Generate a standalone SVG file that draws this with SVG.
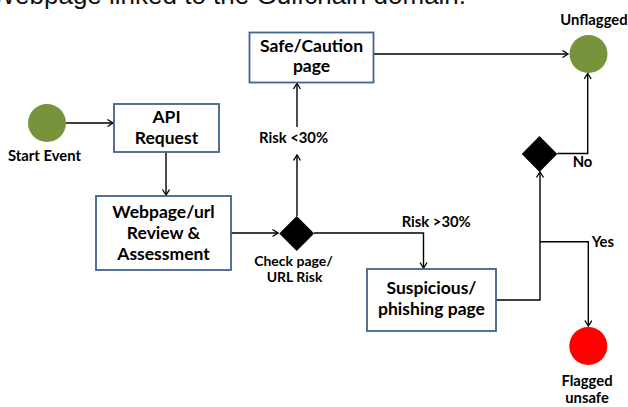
<svg xmlns="http://www.w3.org/2000/svg" width="628" height="407" viewBox="0 0 628 407">
  <defs>
    <style>
      .box { fill: #ffffff; stroke: #41638F; stroke-width: 1.8; }
      .conn { fill: none; stroke: #000000; stroke-width: 1.4; marker-end: url(#arr); }
      .dia { fill: #000000; }
      .green { fill: #77933C; }
      .red { fill: #FF0000; }
      .bt { font-family: Lato, "Open Sans", sans-serif; font-weight: bold; font-size: 17.5px; fill: #000; text-anchor: middle; }
      .lb { font-family: Lato, "Open Sans", sans-serif; font-weight: bold; font-size: 14.8px; fill: #000; }
      .sm { font-size: 14px; }
      .mid { text-anchor: middle; }
      .title { font-family: "Liberation Sans", Arial, sans-serif; font-size: 26px; fill: #111; }
    </style>
    <marker id="arr" markerUnits="userSpaceOnUse" markerWidth="10" markerHeight="10" refX="6" refY="4" orient="auto">
      <path d="M0.5,0.5 L6,4 L0.5,7.5" fill="none" stroke="#000" stroke-width="1.3"/>
    </marker>
  </defs>

  <text class="title" x="-9" y="4">Webpage linked to the Gulfchain domain.</text>

  <g id="connectors">
    <path class="conn" d="M66,123 H113"/>
    <path class="conn" d="M166,152 V195"/>
    <path class="conn" d="M231,233 H278"/>
    <path class="conn" d="M297,216 V155"/>
    <path class="conn" d="M297,127 V83.5"/>
    <path class="conn" d="M373.5,54 H568"/>
    <path class="conn" d="M314,233 H423.5 V268"/>
    <path class="conn" d="M496,300 H540 V172"/>
    <path class="conn" d="M540,241.7 H588.3 V326"/>
    <path class="conn" d="M557.3,153.5 H587.7 V73.5"/>
  </g>

  <g id="start">
    <circle class="green" cx="47" cy="123" r="19"/>
    <text class="lb mid" x="44.5" y="160.7">Start Event</text>
  </g>

  <g id="api">
    <rect class="box" x="114" y="104" width="105" height="48"/>
    <text class="bt" x="166.5" y="123">API</text>
    <text class="bt" x="166.5" y="144">Request</text>
  </g>

  <g id="review">
    <rect class="box" x="96" y="196" width="135" height="74"/>
    <text class="bt" x="163.5" y="218.3">Webpage/url</text>
    <text class="bt" x="163.5" y="239.3">Review &amp;</text>
    <text class="bt" x="163.5" y="260">Assessment</text>
  </g>

  <g id="check">
    <polygon class="dia" points="296.7,216 314.2,233.5 296.7,251 279.2,233.5"/>
    <text class="lb sm mid" x="293.5" y="265.5">Check page/</text>
    <text class="lb sm mid" x="294.5" y="282.3">URL Risk</text>
  </g>

  <g id="risk-low-label">
    <text class="lb" x="259" y="143">Risk &lt;30%</text>
  </g>

  <g id="risk-high-label">
    <text class="lb" x="401.7" y="227.3">Risk &gt;30%</text>
  </g>

  <g id="safe">
    <rect class="box" x="249.5" y="32.5" width="124" height="50"/>
    <text class="bt" x="311.5" y="51.7">Safe/Caution</text>
    <text class="bt" x="311.5" y="71.7">page</text>
  </g>

  <g id="suspicious">
    <rect class="box" x="367" y="269" width="129" height="62"/>
    <text class="bt" x="431.5" y="294">Suspicious/</text>
    <text class="bt" x="431.5" y="315">phishing page</text>
  </g>

  <g id="decision2">
    <polygon class="dia" points="539.5,136 557.3,154 539.5,172 521.7,154"/>
    <text class="lb" x="572.7" y="166.7">No</text>
    <text class="lb" x="591.7" y="246.7">Yes</text>
  </g>

  <g id="unflagged">
    <circle class="green" cx="588.5" cy="54" r="19"/>
    <text class="lb mid" x="594" y="25">Unflagged</text>
  </g>

  <g id="flagged">
    <circle class="red" cx="588.3" cy="346" r="19"/>
    <text class="lb mid" x="587" y="386">Flagged</text>
    <text class="lb mid" x="587" y="402.7">unsafe</text>
  </g>
</svg>
